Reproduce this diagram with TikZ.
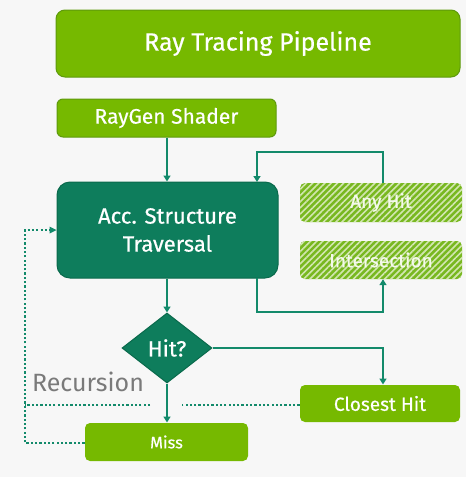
\documentclass[tikz,border=0pt]{standalone}
\usepackage{fontspec}
\setmainfont{Fira Sans}
\newfontfamily\medfont{Fira Sans}[FakeBold=0.5]
\usetikzlibrary{shapes.geometric,arrows.meta,patterns.meta,calc}
\definecolor{nvgreen}{HTML}{76B900}
\definecolor{nvedge}{HTML}{5E9A0C}
\definecolor{teal}{HTML}{0E7D5C}
\definecolor{tealedge}{HTML}{0A6A4C}
\definecolor{wire}{HTML}{138A6B}
\definecolor{hatchbase}{HTML}{78B820}
\definecolor{hatchline}{HTML}{D2E6B0}
\definecolor{bggray}{HTML}{F7F7F7}
\definecolor{recgray}{HTML}{7A7A7A}
\begin{document}
\begin{tikzpicture}[x=1pt,y=-1pt,
  greenbox/.style={draw=nvedge,line width=1pt,fill=nvgreen,rounded corners=6pt,
    text=white,inner sep=0pt,align=center},
  hatchbox/.style={draw=none,rounded corners=5pt,inner sep=0pt,align=center,
    fill=hatchbase,text=white!92!nvgreen,
    postaction={pattern={Lines[angle=45,distance=4.4pt,line width=1.6pt]},pattern color=hatchline}},
  wireline/.style={draw=wire,line width=2.2pt},
  arr/.style={wireline,-{Triangle[length=6pt,width=7pt]}},
  dotline/.style={draw=wire,line width=2.6pt,dash pattern=on 2.2pt off 2.1pt}
]
% canvas
\fill[bggray] (0,0) rectangle (466,477);
\useasboundingbox (0,0) rectangle (466,477);

% stages
\node[greenbox,rounded corners=9pt,minimum width=404pt,minimum height=67pt,font=\medfont\fontsize{25}{28}\selectfont]
  (title) at (258,43.5) {Ray Tracing Pipeline};
\node[greenbox,minimum width=219pt,minimum height=38pt,font=\medfont\fontsize{21}{24}\selectfont]
  (raygen) at (166.5,118) {RayGen Shader};
\node[draw=tealedge,line width=1pt,fill=teal,rounded corners=13pt,text=white,align=center,
  minimum width=221pt,minimum height=96pt,inner sep=0pt,font=\medfont\fontsize{22}{28}\selectfont]
  (acc) at (167.5,230) {Acc. Structure\\Traversal};
\node[hatchbox,minimum width=162pt,minimum height=39pt,font=\medfont\fontsize{19}{22}\selectfont]
  (anyhit) at (381,202.5) {Any Hit};
\node[hatchbox,minimum width=162pt,minimum height=38pt,font=\medfont\fontsize{19}{22}\selectfont]
  (inter) at (381,260) {Intersection};
\node[diamond,draw=tealedge,line width=1pt,fill=teal,text=white,inner sep=0pt,
  minimum width=90pt,minimum height=70pt,font=\medfont\fontsize{22}{25}\selectfont]
  (hit) at (167,348) {Hit?};
\node[greenbox,draw=none,rounded corners=5pt,minimum width=160pt,minimum height=37pt,font=\medfont\fontsize{19}{22}\selectfont]
  (closest) at (380,403.5) {Closest Hit};
\node[greenbox,draw=none,rounded corners=5pt,minimum width=163pt,minimum height=38pt,font=\medfont\fontsize{16.5}{19}\selectfont]
  (miss) at (166.5,442) {Miss};
\node[text=recgray,inner sep=0pt,font=\fontsize{25}{28}\selectfont] (rec) at (88,382) {Recursion};

% bend points
\coordinate (anyTop) at (383,152);
\coordinate (accIn) at (257,182);
\coordinate (accOut) at (257,278);
\coordinate (interLow) at (383,312);
\coordinate (leftRail) at (25,443);
\coordinate (gapR) at (182,405);
\coordinate (gapL) at (150,405);
\coordinate (railMid) at (25,405);

% solid flow
\draw[arr] (raygen.south -| hit.north) -- (acc.north -| hit.north);
\draw[arr] (anyhit.north -| anyTop) -- (anyTop) -| (accIn);
\draw[arr] (accOut) |- (interLow) -- (inter.south -| interLow);
\draw[arr] (acc.south -| hit.north) -- (hit.north);
\draw[arr] (hit.east) -| (closest.north -| interLow);
\draw[arr] (hit.south) -- (miss.north -| hit.south);

% recursion paths
\draw[dotline] (miss.west |- leftRail) -- (leftRail) -- (leftRail |- acc.west) -- ([xshift=-6pt]acc.west);
\fill[wire] (acc.west) -- ++(-7,-3.5) -- ++(0,7) -- cycle;
\draw[dotline] (closest.west |- gapR) -- (gapR);
\draw[dotline] (gapL) -- (railMid);
\end{tikzpicture}
\end{document}
